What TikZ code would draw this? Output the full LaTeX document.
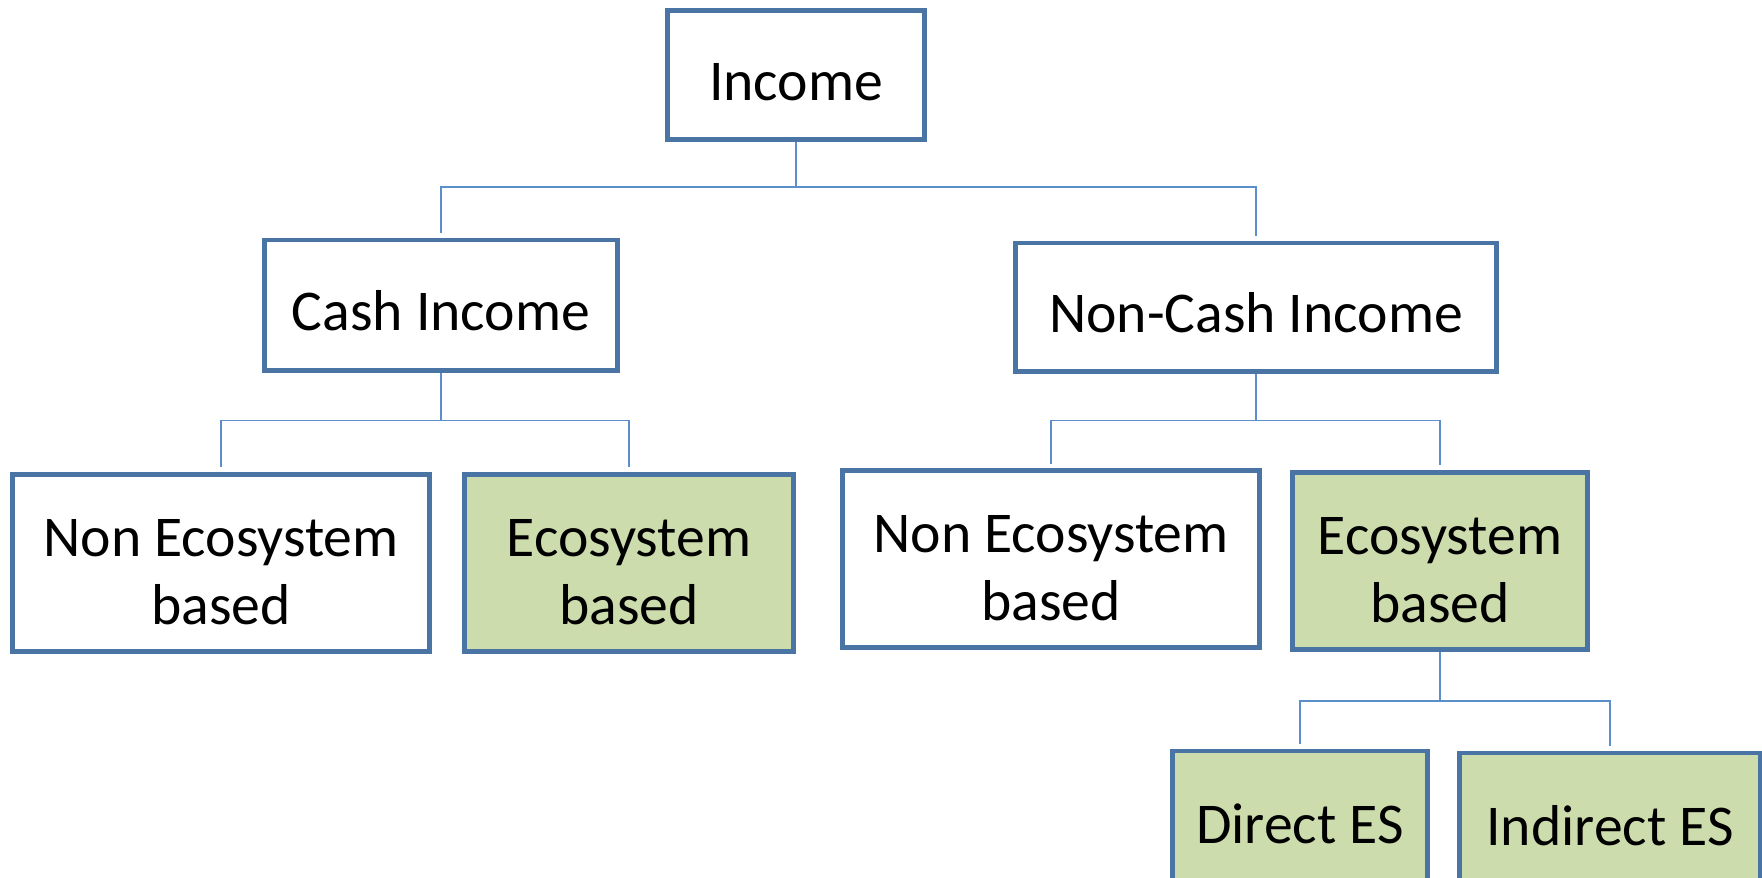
\documentclass[tikz,border=0pt]{standalone}
\usepackage{fontspec}
\setmainfont{Carlito}
\usepackage{tikz}
\usetikzlibrary{positioning,calc}
\definecolor{frame}   {HTML}{4A74A4}
\definecolor{wire}    {HTML}{5B8FCB}
\definecolor{olive}   {HTML}{CDDCAC}
\tikzset{
  % --- nodes
  box/.style  = {draw=frame, line width=1.4pt, fill=white, align=center,
                 inner sep=2pt, font=\fontsize{16.4}{19.4}\selectfont,
                 execute at begin node={\rule{0pt}{0.9em}}},
  two/.style  = {execute at begin node={\rule{0pt}{2.15em}}},
  eco/.style  = {box, fill=olive},
  % --- edges
  link/.style = {draw=wire, line width=0.55pt},
  stub/.style = {link, shorten >=0.45mm},
}
\begin{document}
\begin{tikzpicture}[x=0.01cm,y=-0.01cm]
  \clip (0,0) rectangle (1762,878);
  \useasboundingbox (0,0) rectangle (1762,878);
  % top level
  \node[box, minimum width=2.57cm, minimum height=1.29cm] (inc) at (796,75) {Income};
  \node[box, minimum width=3.53cm, minimum height=1.30cm] (cash) at (441,305) {Cash Income};
  \node[box, minimum width=4.81cm, minimum height=1.28cm] (ncash) at (1256,307) {Non-Cash Income};
  % second level
  \node[box, two, minimum width=4.17cm, minimum height=1.77cm] (neL) at (221,563) {Non Ecosystem\\based};
  \node[eco, two, minimum width=3.28cm, minimum height=1.77cm] (ecoL) at (629,563) {Ecosystem\\based};
  \node[box, two, minimum width=4.16cm, minimum height=1.76cm] (neR) at (1051,559) {Non Ecosystem\\based};
  \node[eco, two, minimum width=2.95cm, minimum height=1.77cm] (ecoR) at (1440,561) {Ecosystem\\based};
  % third level
  \node[eco, minimum width=2.55cm, minimum height=1.34cm] (dir) at (1300,818) {Direct ES};
  \node[eco, minimum width=3.01cm, minimum height=1.34cm] (ind) at (1610,820) {Indirect ES};
  % connectors
  \coordinate (j1) at ($(inc.south)+(0,45)$);
  \coordinate (j2) at ($(cash.south)+(0,48)$);
  \coordinate (j3) at ($(ncash.south)+(0,47)$);
  \coordinate (j4) at ($(ecoR.south)+(0,49)$);
  \draw[link] (inc) -- (j1);
  \draw[stub] (j1) -| (cash);
  \draw[stub] (j1) -| (ncash);
  \draw[link] (cash) -- (j2);
  \draw[stub] (j2) -| (neL);
  \draw[stub] (j2) -| (ecoL);
  \draw[link] (ncash) -- (j3);
  \draw[stub] (j3) -| (neR);
  \draw[stub] (j3) -| (ecoR);
  \draw[link] (ecoR) -- (j4);
  \draw[stub] (j4) -| (dir);
  \draw[stub] (j4) -| (ind);
\end{tikzpicture}
\end{document}
